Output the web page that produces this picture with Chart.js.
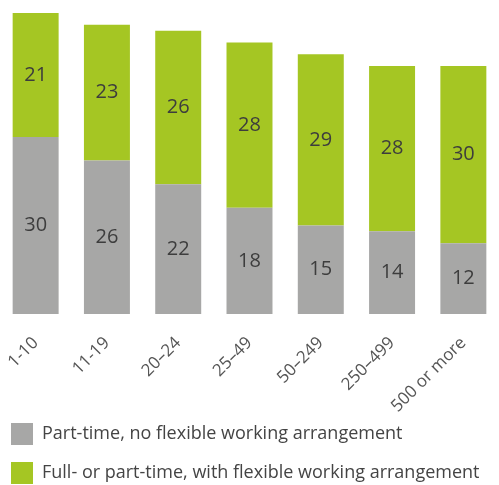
<!DOCTYPE html>
<html lang="en">

<head>
  <meta charset="UTF-8" />
  <title>Flexible working by organisation size</title>
  <script src="https://cdn.jsdelivr.net/npm/chart.js"></script>
  <style>
    body {
      margin: 0;
      background: #fff;
    }

    #wrap {
      width: 499px;
      height: 485px;
    }
  </style>
</head>

<body>
  <div id="wrap">
    <canvas id="sizeChart" width="499" height="485"></canvas>
  </div>

  <script>
    // Values
    const sizeBands = ["1-10", "11-19", "20–24", "25–49", "50–249", "250–499", "500 or more"];
    const partTimeNoFlex = [30, 26, 22, 18, 15, 14, 12];
    const withFlex = [21, 23, 26, 28, 29, 28, 30];
    const seriesNames = [
      "Part-time, no flexible working arrangement",
      "Full- or part-time, with flexible working arrangement"
    ];

    Chart.defaults.font.family = "'Open Sans', sans-serif";

    // numbers in the middle of each segment
    const segmentLabels = {
      id: "segmentLabels",
      afterDatasetsDraw(chart) {
        const ctx = chart.ctx;
        ctx.save();
        ctx.font = "20px 'Open Sans', sans-serif";
        ctx.fillStyle = "#3d3d3d";
        ctx.textAlign = "center";
        ctx.textBaseline = "middle";
        chart.data.datasets.forEach((ds, i) => {
          chart.getDatasetMeta(i).data.forEach((bar, j) => {
            ctx.fillText(ds.data[j], bar.x, (bar.y + bar.base) / 2);
          });
        });
        ctx.restore();
      }
    };

    // nudge the legend so the boxes sit like the original
    const legendNudge = {
      id: "legendNudge",
      afterLayout(chart) {
        chart.legend.left -= 6;
        chart.legend.top -= 8;
      }
    };

    new Chart(document.getElementById("sizeChart"), {
      type: "bar",
      data: {
        labels: sizeBands,
        datasets: [{
          label: seriesNames[0],
          data: partTimeNoFlex,
          backgroundColor: "#a7a7a6"
        }, {
          label: seriesNames[1],
          data: withFlex,
          backgroundColor: "#a5c623"
        }]
      },
      options: {
        responsive: false,
        animation: false,
        layout: { padding: { top: 13, left: 0, right: 0, bottom: -17 } },
        datasets: {
          bar: { categoryPercentage: 1, barPercentage: 0.645 }
        },
        scales: {
          x: {
            stacked: true,
            grid: { display: false },
            border: { display: false },
            ticks: {
              minRotation: 45,
              maxRotation: 45,
              padding: 11,
              color: "#555",
              font: { size: 17 }
            },
            afterFit(scale) {
              scale.height = 100;
            }
          },
          y: {
            stacked: true,
            display: false,
            min: 0,
            max: 51
          }
        },
        plugins: {
          tooltip: { enabled: false },
          legend: {
            position: "bottom",
            align: "start",
            labels: {
              boxWidth: 22,
              boxHeight: 22,
              padding: 17,
              color: "#444",
              font: { size: 18 }
            }
          }
        }
      },
      plugins: [segmentLabels, legendNudge]
    });
  </script>
</body>

</html>
